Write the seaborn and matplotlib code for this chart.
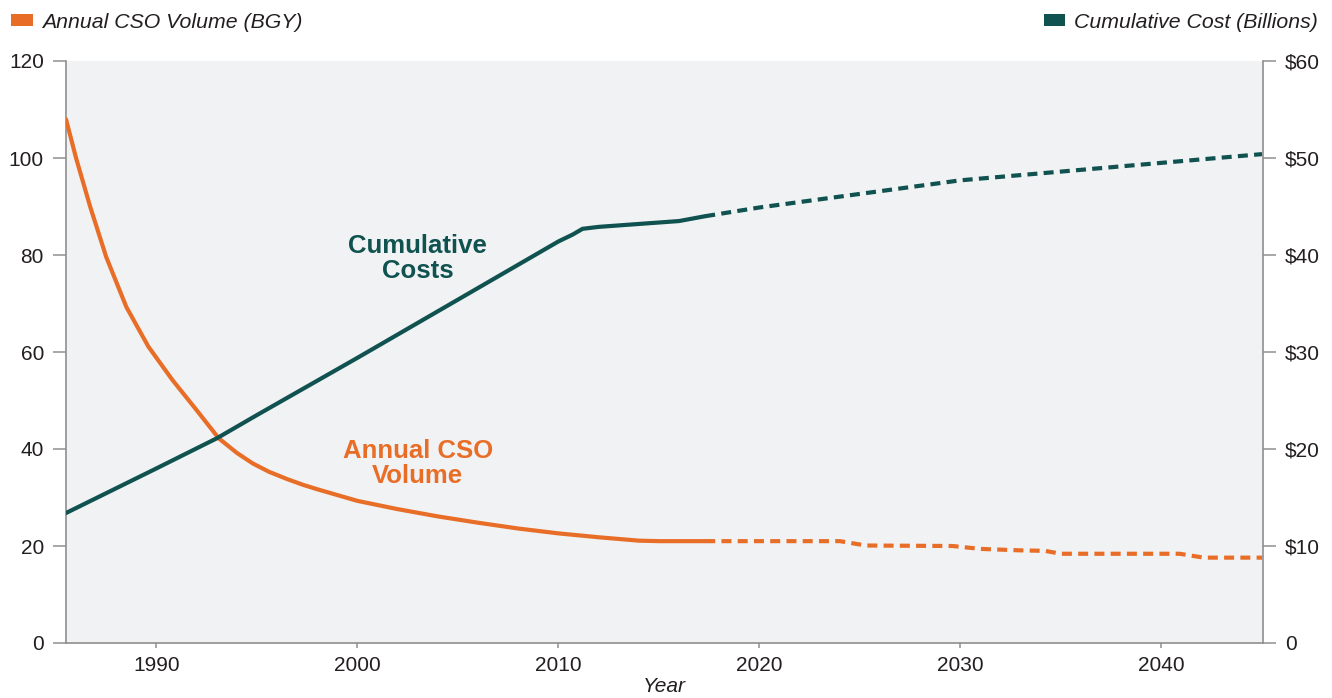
import matplotlib
matplotlib.use("Agg")
import matplotlib.pyplot as plt
from matplotlib.patches import Patch
from matplotlib.ticker import FixedLocator
import seaborn as sns
import pandas as pd

# Annual CSO volume, billion gallons per year (left axis)
cso_years_hist = [1985.5, 1986, 1986.7, 1987.5, 1988.5, 1989.6, 1990.8, 1992,
                  1993.1, 1994, 1994.8, 1995.6, 1996.5, 1997.3, 1998, 1999,
                  2000, 2002, 2004, 2006, 2008, 2010, 2012, 2014, 2015, 2017.3]
cso_hist = [108, 100, 90, 79.6, 69.3, 61.1, 54.2, 48.0,
            42.2, 39.2, 37.0, 35.3, 33.8, 32.6, 31.7, 30.5,
            29.3, 27.6, 26.1, 24.8, 23.6, 22.6, 21.8, 21.1, 21.0, 21.0]
cso_years_proj = [2017.3, 2024, 2025.3, 2029.6, 2031, 2033, 2034.2, 2035,
                  2040.9, 2042.1, 2045]
cso_proj = [21.0, 21.0, 20.1, 20.0, 19.4, 19.1, 19.0, 18.4, 18.4, 17.6, 17.6]

# Cumulative cost, billions of dollars (right axis)
cost_years_hist = [1985.5, 1990, 1993, 1995, 2000, 2005, 2010, 2010.7, 2011.2,
                   2012, 2014, 2016, 2017.3]
cost_hist = [13.4, 18.0, 21.1, 23.5, 29.4, 35.4, 41.4, 42.1, 42.7, 42.9,
             43.2, 43.5, 44.0]
cost_years_proj = [2017.3, 2020, 2025, 2030, 2035, 2040, 2045]
cost_proj = [44.0, 44.9, 46.3, 47.7, 48.6, 49.5, 50.4]

year_ticks = [1990, 2000, 2010, 2020, 2030, 2040]
left_ticks = [0, 20, 40, 60, 80, 100, 120]
right_ticks = [0, 10, 20, 30, 40, 50, 60]
right_labels = ["0", "$10", "$20", "$30", "$40", "$50", "$60"]

ORANGE = "#E86E28"
TEAL = "#10524F"
AXIS_GREY = "#8F8F8F"
TEXT = "#231F20"
PANEL = "#F1F2F4"

sns.set_theme(style="white")
plt.rcParams["font.family"] = ["Liberation Sans", "DejaVu Sans"]

fig = plt.figure(figsize=(13.32, 6.98), dpi=100)
ax = fig.add_axes([66 / 1332, 1 - 643 / 698, (1263 - 66) / 1332, (643 - 61) / 698])
ax2 = ax.twinx()
ax.set_facecolor(PANEL)
ax2.patch.set_visible(False)
ax.set_zorder(0)
ax2.set_zorder(1)

dash = (0, (2.4, 1.5))
lw = 3.0

df_cso_h = pd.DataFrame({"year": cso_years_hist, "value": cso_hist})
df_cso_p = pd.DataFrame({"year": cso_years_proj, "value": cso_proj})
df_cost_h = pd.DataFrame({"year": cost_years_hist, "value": cost_hist})
df_cost_p = pd.DataFrame({"year": cost_years_proj, "value": cost_proj})

sns.lineplot(data=df_cso_h, x="year", y="value", ax=ax2, color=ORANGE,
             linewidth=lw, estimator=None, sort=False)
sns.lineplot(data=df_cso_p, x="year", y="value", ax=ax2, color=ORANGE,
             linewidth=lw, linestyle=dash, estimator=None, sort=False)

# cost is plotted on a separate twin so it uses the dollar scale
ax3 = ax.twinx()
ax3.patch.set_visible(False)
ax3.set_zorder(2)
sns.lineplot(data=df_cost_h, x="year", y="value", ax=ax3, color=TEAL,
             linewidth=lw, estimator=None, sort=False)
sns.lineplot(data=df_cost_p, x="year", y="value", ax=ax3, color=TEAL,
             linewidth=lw, linestyle=dash, estimator=None, sort=False)

for a in (ax, ax2, ax3):
    a.set_xlim(1985.5, 2045.05)
ax.set_ylim(0, 120)
ax2.set_ylim(0, 120)
ax3.set_ylim(0, 60)

# left axis (volume)
ax.yaxis.set_major_locator(FixedLocator(left_ticks))
ax.set_yticklabels([str(t) for t in left_ticks])
ax.xaxis.set_major_locator(FixedLocator(year_ticks))
ax.set_xticklabels([str(t) for t in year_ticks])
ax.tick_params(axis="y", which="major", left=True, length=9.4, width=1.1,
               color=AXIS_GREY, pad=6.5, labelsize=15, labelcolor=TEXT)
ax.tick_params(axis="x", which="major", bottom=True, length=3.6, width=1.1,
               color=AXIS_GREY, pad=5.5, labelsize=15, labelcolor=TEXT)

# helper twin for orange line: no ticks or spines of its own
ax2.set_yticks([])
ax2.set_ylabel("")
ax2.set_xlabel("")
for s in ax2.spines.values():
    s.set_visible(False)

# right axis (cost)
ax3.yaxis.set_major_locator(FixedLocator(right_ticks))
ax3.set_yticklabels(right_labels)
ax3.set_ylabel("")
ax3.set_xlabel("")
ax3.tick_params(axis="y", which="major", right=True, left=False, length=9.4,
                width=1.1, color=AXIS_GREY, pad=6.5, labelsize=15,
                labelcolor=TEXT)
for name, s in ax3.spines.items():
    s.set_visible(name == "right")
    s.set_color(AXIS_GREY)
    s.set_linewidth(1.2)

ax.set_ylabel("")
for name, s in ax.spines.items():
    s.set_visible(name in ("left", "bottom"))
    s.set_color(AXIS_GREY)
    s.set_linewidth(1.2)

ax.set_xlabel("Year", fontsize=15, style="italic", color=TEXT)
ax.xaxis.set_label_coords(0.5, -0.058)
ax.xaxis.label.set_va("top")

# inline series labels
ax2.text(2003.0, 79.2, "Cumulative\nCosts", color=TEAL, fontsize=18.5,
         fontweight="bold", ha="center", va="center", multialignment="center",
         linespacing=1.05)
ax2.text(2003.0, 37.1, "Annual CSO\nVolume", color=ORANGE, fontsize=18.5,
         fontweight="bold", ha="center", va="center", multialignment="center",
         linespacing=1.05)

# legends along the top edge
leg_kw = dict(frameon=False, borderpad=0, borderaxespad=0, handlelength=1.02,
              handleheight=0.56, handletextpad=0.42,
              prop={"size": 15.3, "style": "italic"}, labelcolor=TEXT)
fig.legend(handles=[Patch(facecolor=ORANGE, edgecolor="none",
                          label="Annual CSO Volume (BGY)")],
           loc="center left", bbox_to_anchor=(11 / 1332, 1 - 22 / 698), **leg_kw)
fig.legend(handles=[Patch(facecolor=TEAL, edgecolor="none",
                          label="Cumulative Cost (Billions)")],
           loc="center right", bbox_to_anchor=(1318 / 1332, 1 - 22 / 698), **leg_kw)

fig.savefig("out.png", dpi=100, facecolor="white")
